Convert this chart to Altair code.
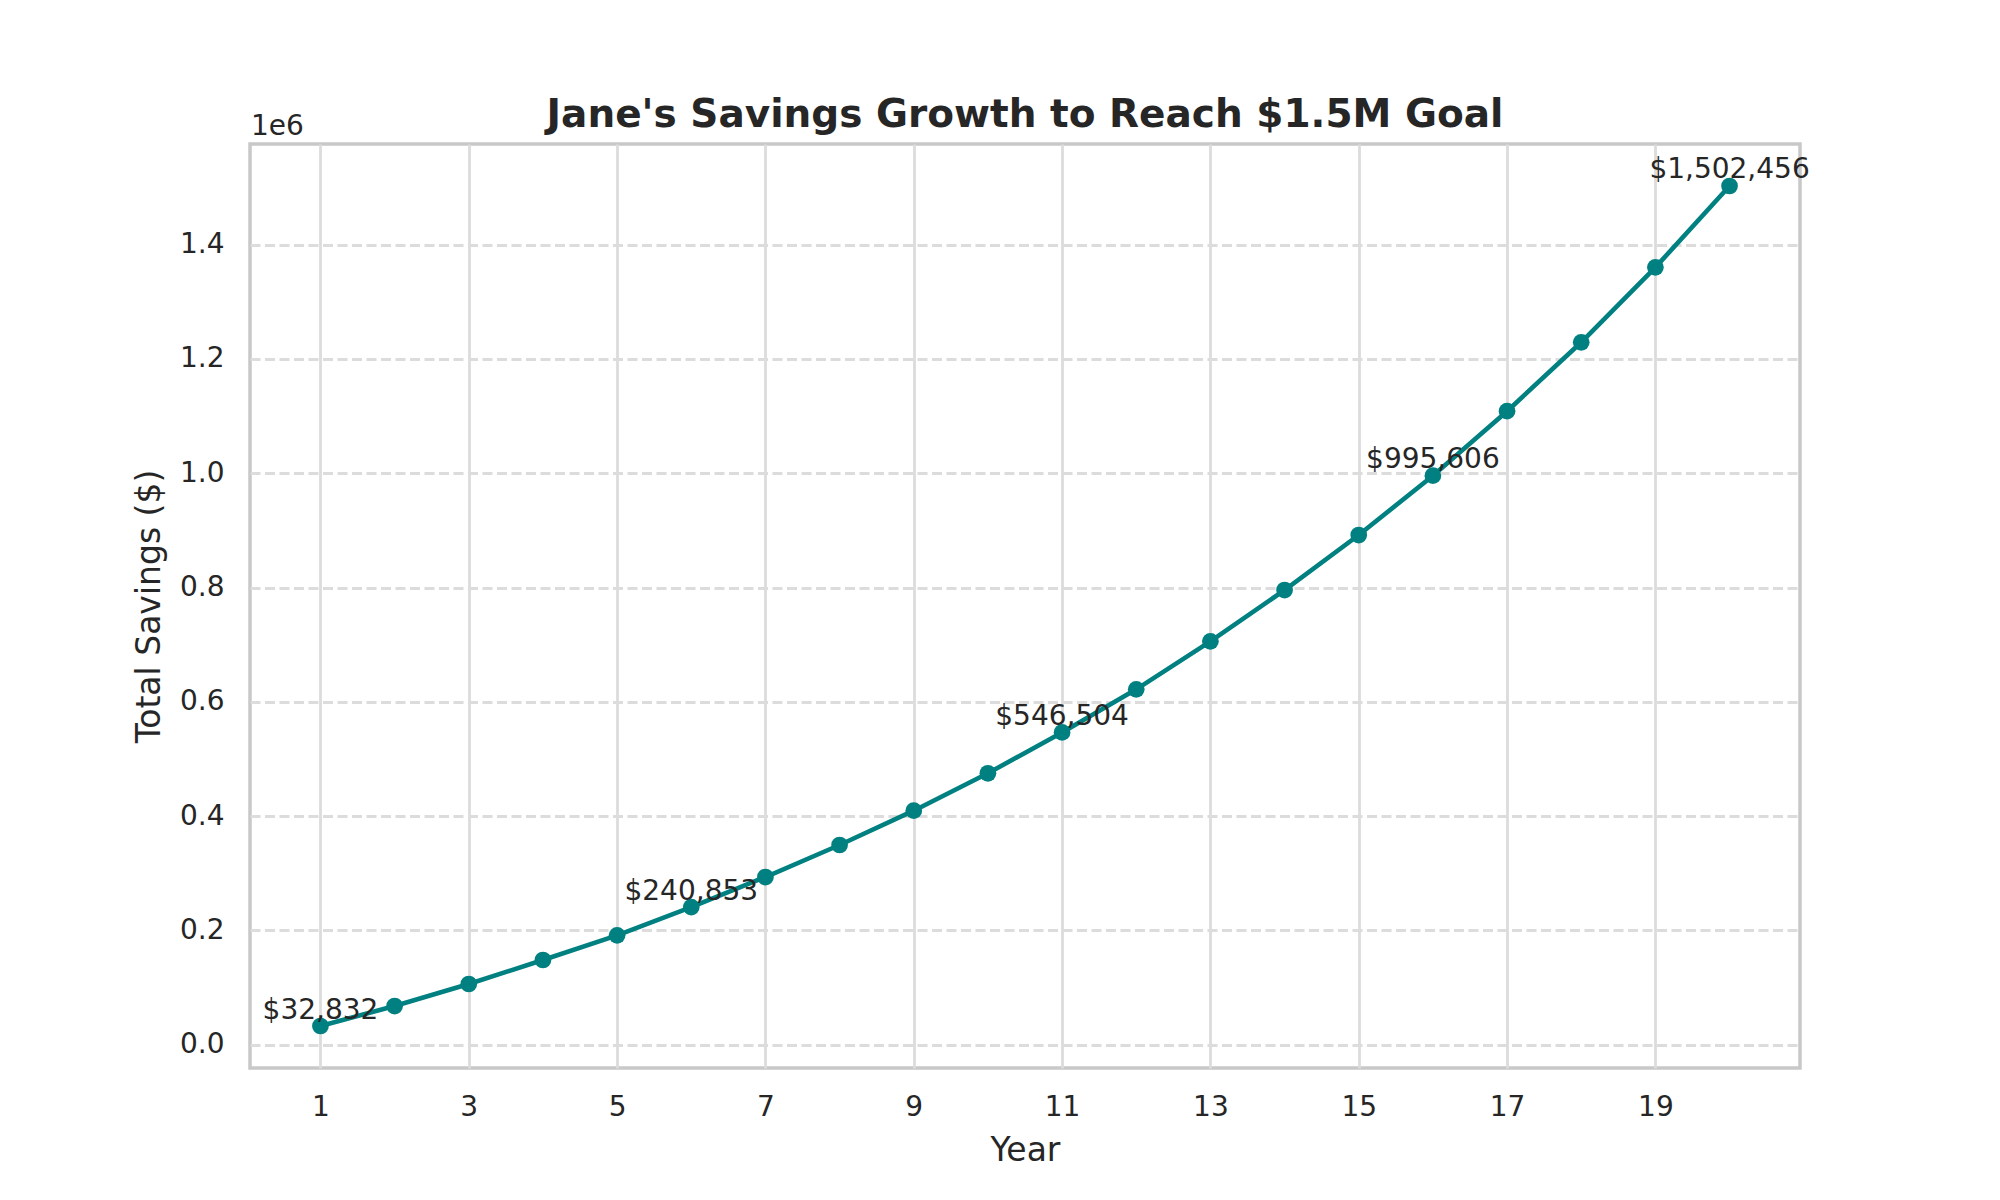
import altair as alt
import pandas as pd

# ---- data ----
years = list(range(1, 21))
savings = [32832, 67800, 106300, 148300, 191500, 240853, 293500, 349500,
           409500, 475000, 546504, 621800, 705800, 795600, 891800, 995606,
           1108500, 1229000, 1360100, 1502456]
annotated_years = [1, 6, 11, 16, 20]
x_ticks = [1, 3, 5, 7, 9, 11, 13, 15, 17, 19]
y_ticks = [0, 200000, 400000, 600000, 800000, 1000000, 1200000, 1400000]
offset_text = ["1e6"]

df = pd.DataFrame({"year": years, "savings": savings})
df_offset = pd.DataFrame({"t": offset_text})

FONT = "DejaVu Sans"
TEXT = "#262626"
TEAL = "#008080"
GRID = "#dcdcdc"
FRAME = "#c8c8c8"

x_enc = alt.X(
    "year:Q",
    scale=alt.Scale(domain=[0.05, 20.95], nice=False, zero=False),
    axis=alt.Axis(
        values=x_ticks, title="Year", ticks=False, domain=False,
        labelPadding=25, labelFontSize=28, labelColor=TEXT, labelFont=FONT,
        grid=True, gridColor=GRID, gridWidth=2.8,
        titleFontSize=33, titleFont=FONT, titleColor=TEXT, titleFontWeight="normal",
        titleX=775, titleY=92, titleBaseline="alphabetic", titleAlign="center",
    ),
)
y_enc = alt.Y(
    "savings:Q",
    scale=alt.Scale(domain=[-40649, 1575937], nice=False, zero=False),
    axis=alt.Axis(
        values=y_ticks, title="Total Savings ($)", ticks=False, domain=False,
        labelExpr="format(datum.value / 1000000, '.1f')",
        labelPadding=26, labelFontSize=28, labelColor=TEXT, labelFont=FONT,
        grid=True, gridColor=GRID, gridWidth=2.8, gridDash=[10, 4.5],
        titleFontSize=33, titleFont=FONT, titleColor=TEXT, titleFontWeight="normal",
        titleAngle=270, titleX=-91, titleY=462, titleBaseline="alphabetic",
        titleAlign="center",
    ),
)

base = alt.Chart(df).encode(x=x_enc, y=y_enc)

line = base.mark_line(color=TEAL, strokeWidth=4.6)
points = base.mark_point(filled=True, shape="circle", size=280, opacity=1, color=TEAL)
labels = base.mark_text(
    font=FONT, fontSize=28, color=TEXT, align="center", baseline="alphabetic", dy=-7.5
).encode(text=alt.Text("savings:Q", format="$,.0f")).transform_filter(
    alt.FieldOneOfPredicate(field="year", oneOf=annotated_years)
)

offset_label = alt.Chart(df_offset).mark_text(
    font=FONT, fontSize=28, color=TEXT, align="left", baseline="alphabetic"
).encode(x=alt.value(1), y=alt.value(-9), text="t:N")

chart = alt.layer(line, points, labels, offset_label).properties(
    width=1550,
    height=924,
    title=alt.Title(
        "Jane's Savings Growth to Reach $1.5M Goal",
        font=FONT, fontSize=39, fontWeight="bold", color=TEXT,
        anchor="middle", baseline="alphabetic", offset=17, dy=70,
    ),
    view=alt.ViewBackground(stroke=FRAME, strokeWidth=3.5, fill="white"),
    autosize=alt.AutoSizeParams(type="none"),
    padding={"left": 242, "top": 136, "right": 192, "bottom": 124},
).configure_view(
    stroke=FRAME, strokeWidth=3.5
).configure(background="white")

chart.save("out.html", embed_options={"renderer": "svg", "actions": False})
